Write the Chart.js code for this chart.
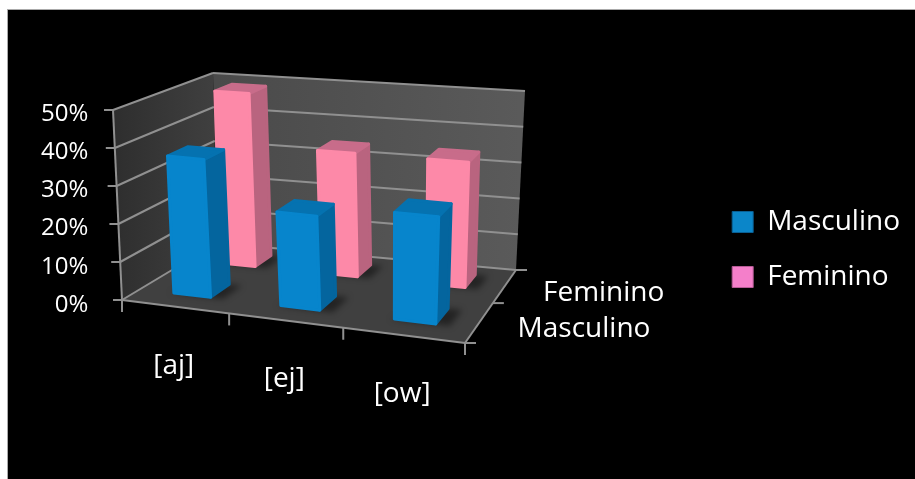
<!DOCTYPE html>
<html>
<head>
<meta charset="utf-8">
<title>Ditongos</title>
<script src="https://cdn.jsdelivr.net/npm/chart.js@4"></script>
<style>
  html, body { margin: 0; padding: 0; background: #fff; }
  #wrap { position: absolute; left: 0; top: 0; width: 915px; height: 479px; }
</style>
</head>
<body>
<div id="wrap"><canvas id="chart"></canvas></div>
<script>
const categories = ['[aj]', '[ej]', '[ow]'];
const masculino = [36.5, 24.5, 27.5];
const feminino = [48.5, 34, 34];
const yTicks = [0, 10, 20, 30, 40, 50];

// corners of the 3D box on the page: fl/fr = front, bl/br = back
const floorQuad = { fl: [122, 300], fr: [465, 343], br: [516, 270], bl: [217, 243] };
const ceilQuad = { fl: [113, 110], fr: [476, 144], br: [525, 91], bl: [213, 73] };

const seriesDepth = [0.27, 0.77];
const barDepth = 0.2;
// eases the foreshortening along the category edge
const uEase = 0.93;

// unit square -> quad perspective mapping
function makeHomography(q) {
  const [x0, y0] = q.fl, [x1, y1] = q.fr, [x2, y2] = q.br, [x3, y3] = q.bl;
  const dx1 = x1 - x2, dx2 = x3 - x2, sx = x0 - x1 + x2 - x3;
  const dy1 = y1 - y2, dy2 = y3 - y2, sy = y0 - y1 + y2 - y3;
  const den = dx1 * dy2 - dx2 * dy1;
  const g = (sx * dy2 - dx2 * sy) / den;
  const h = (dx1 * sy - sx * dy1) / den;
  const a = x1 - x0 + g * x1, b = x3 - x0 + h * x3;
  const d = y1 - y0 + g * y1, e = y3 - y0 + h * y3;
  return (u, w) => {
    const k = g * u + h * w + 1;
    return [(a * u + b * w + x0) / k, (d * u + e * w + y0) / k];
  };
}
const floorAt = makeHomography(floorQuad);
const ceilAt = makeHomography(ceilQuad);

// u along categories, d into the depth, v is 0..1 of the value axis
function project(u, d, v) {
  const ue = u / (u + (1 - u) * uEase);
  const p = floorAt(ue, d), q = ceilAt(ue, d);
  return [p[0] + (q[0] - p[0]) * v, p[1] + (q[1] - p[1]) * v];
}

function poly(ctx, pts, fill, round) {
  ctx.beginPath();
  pts.forEach((p, i) => i ? ctx.lineTo(p[0], p[1]) : ctx.moveTo(p[0], p[1]));
  ctx.closePath();
  ctx.fillStyle = fill;
  ctx.fill();
  if (round) {
    ctx.strokeStyle = fill;
    ctx.lineWidth = round;
    ctx.lineJoin = 'round';
    ctx.stroke();
  }
}

function line(ctx, a, b) {
  ctx.beginPath();
  ctx.moveTo(a[0], a[1]);
  ctx.lineTo(b[0], b[1]);
  ctx.stroke();
}

const backdrop = {
  id: 'backdrop',
  beforeDraw(chart) {
    const ctx = chart.ctx;
    ctx.save();
    ctx.fillStyle = '#fff';
    ctx.fillRect(0, 0, chart.width, chart.height);
    ctx.fillStyle = '#aaa';
    ctx.fillRect(7, 9, chart.width - 7, chart.height - 9);
    ctx.fillStyle = '#000';
    ctx.fillRect(8, 10, chart.width - 8, chart.height - 10);
    ctx.restore();
  }
};

function drawWalls(chart, yOf) {
  const ctx = chart.ctx;
  const back = ctx.createLinearGradient(217, 0, 520, 0);
  back.addColorStop(0, '#4a4a4a');
  back.addColorStop(1, '#5a5a5a');
  poly(ctx, [project(0, 1, 0), project(1, 1, 0), project(1, 1, 1), project(0, 1, 1)], back);
  const side = ctx.createLinearGradient(113, 0, 217, 0);
  side.addColorStop(0, '#2e2e2e');
  side.addColorStop(1, '#404040');
  poly(ctx, [project(0, 0, 0), project(0, 1, 0), project(0, 1, 1), project(0, 0, 1)], side);
  poly(ctx, [project(0, 0, 0), project(1, 0, 0), project(1, 1, 0), project(0, 1, 0)], '#404040');

  ctx.strokeStyle = '#909090';
  ctx.lineWidth = 2;
  yTicks.forEach(t => {
    const v = yOf(t);
    const a = project(0, 0, v), b = project(0, 1, v), c = project(1, 1, v);
    line(ctx, a, b);
    line(ctx, b, c);
    line(ctx, a, [a[0] - 9, a[1]]);
  });
  line(ctx, project(0, 0, 0), project(0, 0, 1));
  line(ctx, project(0, 0, 0), project(1, 0, 0));
  line(ctx, project(1, 0, 0), project(1, 1, 0));

  // tick marks along the category edge and the depth edge
  for (let i = 0; i <= categories.length; i++) {
    const p = project(i / categories.length, 0, 0);
    line(ctx, p, [p[0], p[1] + 12]);
  }
  for (let i = 0; i <= 2; i++) {
    const p = project(1, i / 2, 0);
    line(ctx, p, [p[0] + 11, p[1]]);
  }
}

function drawBar(ctx, el, chart, depth, colors) {
  const area = chart.chartArea;
  const span = area.right - area.left;
  const u0 = (el.x - el.width / 2 - area.left) / span;
  const u1 = (el.x + el.width / 2 - area.left) / span;
  const v = (area.bottom - el.y) / (area.bottom - area.top);
  const d0 = depth - barDepth / 2, d1 = depth + barDepth / 2;

  // soft contact shadow on the floor
  ctx.save();
  ctx.filter = 'blur(3px)';
  poly(ctx, [project(u0 - 0.012, d0 - 0.005, 0), project(u1 + 0.04, d0 - 0.005, 0), project(u1 + 0.04, d1, 0), project(u1, d1, 0)], 'rgba(0,0,0,0.45)');
  ctx.restore();

  poly(ctx, [project(u1, d0, 0), project(u1, d1, 0), project(u1, d1, v), project(u1, d0, v)], colors.side, 3);
  poly(ctx, [project(u0, d0, v), project(u1, d0, v), project(u1, d1, v), project(u0, d1, v)], colors.top, 3);
  poly(ctx, [project(u0, d0, 0), project(u1, d0, 0), project(u1, d0, v), project(u0, d0, v)], colors.front, 3);
}

const shades = [
  { front: '#0785cc', side: '#04659e', top: '#0572b0' },
  { front: '#fd89a8', side: '#b9647f', top: '#c86c8a' }
];

const box3d = {
  id: 'box3d',
  afterLayout(chart) {
    // legend sits lower than the centre of the plot
    chart.legend.top += 40;
    chart.legend.bottom += 40;
  },
  beforeDatasetsDraw(chart) {
    const ctx = chart.ctx;
    const y = chart.scales.y;
    const yOf = t => (y.bottom - y.getPixelForValue(t)) / (y.bottom - y.top);
    ctx.save();
    drawWalls(chart, yOf);
    // back row first so the front row covers it
    for (let s = chart.data.datasets.length - 1; s >= 0; s--) {
      chart.getDatasetMeta(s).data.forEach(el => drawBar(ctx, el, chart, seriesDepth[s], shades[s]));
    }
    ctx.restore();
    return false;
  },
  afterDraw(chart) {
    const ctx = chart.ctx;
    ctx.save();
    ctx.fillStyle = '#fff';
    ctx.font = '28px "Open Sans"';
    ctx.textBaseline = 'middle';
    ctx.textAlign = 'center';
    chart.scales.x.getLabels().forEach((label, i) => {
      const p = project((i + 0.5) / categories.length, 0, 0);
      ctx.fillText(label, p[0] - 1, p[1] + 59);
    });
    ctx.textAlign = 'left';
    chart.data.datasets.forEach((ds, s) => {
      const p = project(1, s === 0 ? 0.25 : 0.75, 0);
      ctx.fillText(ds.label, p[0] + 38, p[1] + 7);
    });
    ctx.restore();
  }
};

new Chart(document.getElementById('chart'), {
  type: 'bar',
  data: {
    labels: categories,
    datasets: [
      { label: 'Masculino', data: masculino, backgroundColor: '#0b86c9', borderColor: '#0a5f93', borderWidth: 1 },
      { label: 'Feminino', data: feminino, backgroundColor: '#f47fca', borderColor: '#b65b96', borderWidth: 1 }
    ]
  },
  options: {
    responsive: true,
    maintainAspectRatio: false,
    animation: false,
    grouped: false,
    categoryPercentage: 0.35,
    barPercentage: 1,
    layout: { padding: { left: 37, top: 114, bottom: 174, right: 5 } },
    plugins: {
      tooltip: { enabled: false },
      legend: {
        position: 'right',
        labels: {
          color: '#fff',
          font: { family: 'Open Sans', size: 28 },
          boxWidth: 21,
          boxHeight: 21,
          padding: 27
        }
      }
    },
    scales: {
      x: { display: false },
      y: {
        min: 0,
        max: 50,
        afterBuildTicks(axis) { axis.ticks = yTicks.map(value => ({ value })); },
        grid: { display: false, drawTicks: false },
        border: { display: false },
        ticks: {
          color: '#fff',
          padding: 4,
          font: { family: 'Open Sans', size: 24 },
          callback: v => v + '%'
        }
      }
    }
  },
  plugins: [backdrop, box3d]
});
</script>
</body>
</html>
